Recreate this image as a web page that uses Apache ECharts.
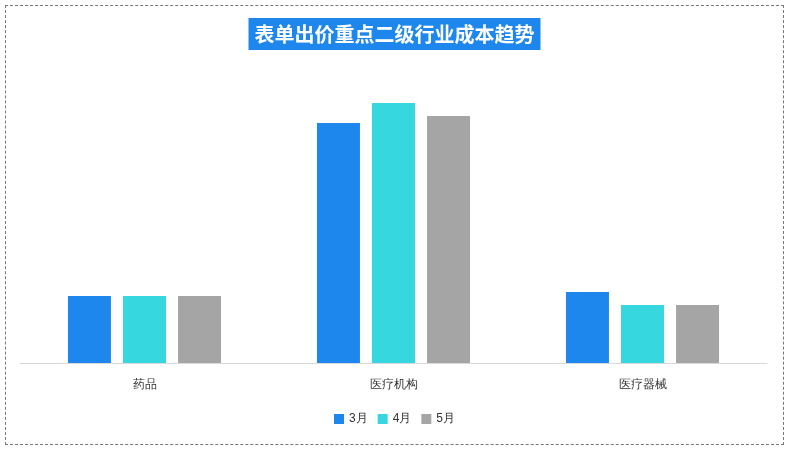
<!DOCTYPE html>
<html><head><meta charset="utf-8">
<script src="https://cdn.jsdelivr.net/npm/echarts@6/dist/echarts.min.js"></script>
<style>html,body{margin:0;padding:0;background:#fff}
#c{position:absolute;left:5px;top:5px;width:777px;height:438px;border:1px dashed #777;}</style>
</head><body><div id="c"></div>
<script>
const categories = ['药品','医疗机构','医疗器械'];
const seriesNames = ['3月','4月','5月'];
const march = [67, 240, 71];
const april = [67, 260, 58];
const may = [67, 247, 58];
const colors = ['#1e87ee','#37d7e0','#a5a5a5'];
const chart = echarts.init(document.getElementById('c'));
chart.setOption({
  title:{text:'表单出价重点二级行业成本趋势',left:'center',top:12,backgroundColor:'#1e87ee',padding:[6,6],
    textStyle:{color:'#fff',fontSize:20,fontWeight:'bold',fontFamily:'Noto Sans CJK SC'}},
  legend:{bottom:14,itemWidth:10,itemHeight:10,icon:'rect',itemGap:10,textStyle:{color:'#333',fontSize:12}},
  grid:{left:14,right:16,top:97,bottom:81},
  xAxis:{type:'category',data:categories,axisTick:{show:false},axisLine:{lineStyle:{color:'#d9d9d9'}},
    axisLabel:{color:'#333',fontSize:12,margin:16}},
  yAxis:{type:'value',min:0,max:260,show:false,splitLine:{show:false}},
  series:[march,april,may].map((d,i)=>({type:'bar',name:seriesNames[i],data:d,barWidth:43,barGap:'28%',itemStyle:{color:colors[i]}}))
});
</script></body></html>
